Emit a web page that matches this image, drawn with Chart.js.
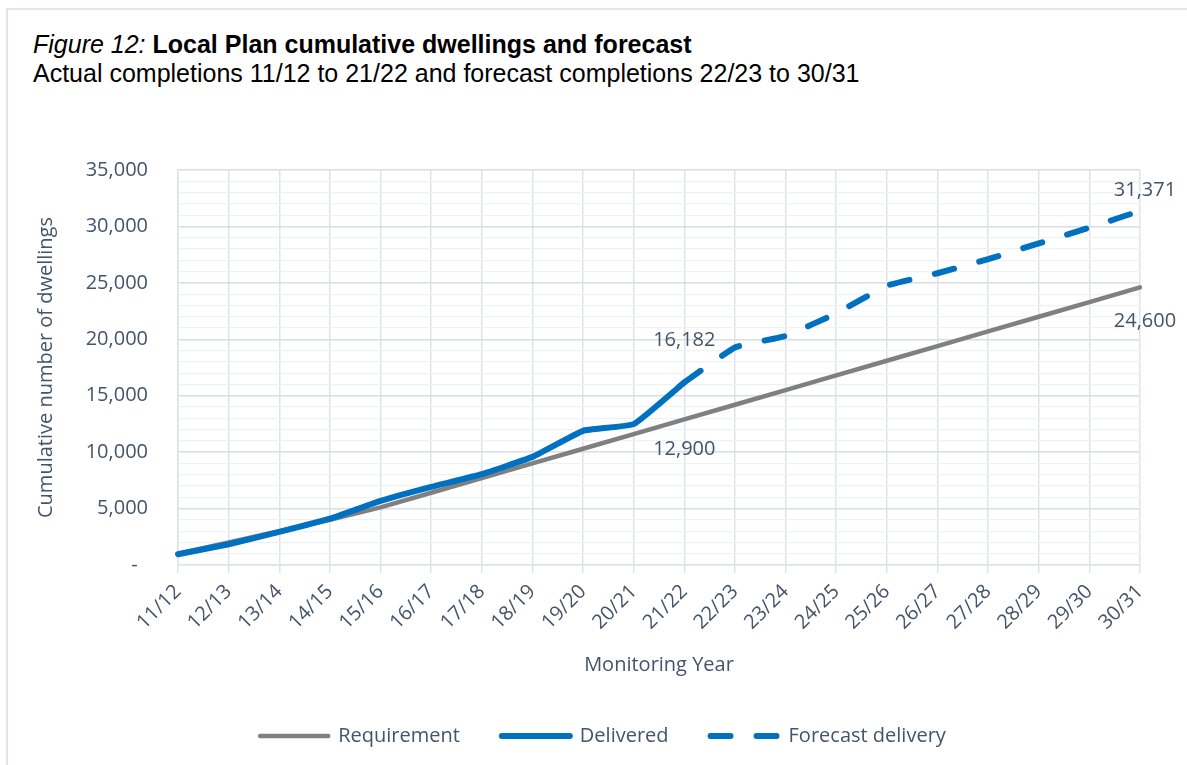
<!DOCTYPE html>
<html>
<head>
<meta charset="utf-8">
<script src="https://cdn.jsdelivr.net/npm/chart.js@4/dist/chart.umd.min.js"></script>
<style>
  html, body { margin: 0; padding: 0; background: #fff; }
  body { width: 1187px; height: 765px; position: relative; overflow: hidden; }
  #frame {
    position: absolute; left: 6px; top: 8px; width: 1300px; height: 900px;
    border: 2px solid #e1e4e8; box-sizing: border-box;
  }
  #heading {
    position: absolute; left: 33px; top: 30px;
    font-family: "Liberation Sans", Arial, sans-serif; font-size: 25px; line-height: 29px;
    color: #000; white-space: nowrap;
  }
  #chartWrap { position: absolute; left: 0; top: 0; width: 1187px; height: 765px; }
</style>
</head>
<body>
<div id="frame"></div>
<div id="heading">
  <div><i>Figure 12:</i> <b>Local Plan cumulative dwellings and forecast</b></div>
  <div>Actual completions 11/12 to 21/22 and forecast completions 22/23 to 30/31</div>
</div>
<div id="chartWrap"><canvas id="dwellingsChart" width="1187" height="765"></canvas></div>
<script>
const years = ['11/12', '12/13', '13/14', '14/15', '15/16', '16/17', '17/18', '18/19', '19/20', '20/21',
  '21/22', '22/23', '23/24', '24/25', '25/26', '26/27', '27/28', '28/29', '29/30', '30/31'];

const requirement = [1000, 2000, 3000, 4000, 5100, 6400, 7700, 9000, 10300, 11600,
  12900, 14200, 15500, 16800, 18100, 19400, 20700, 22000, 23300, 24600];

const delivered = [950, 1840, 2930, 4100, 5680, 6920, 8050, 9580, 11890, 12480, 16182];

const forecast = [null, null, null, null, null, null, null, null, null, null,
  16182, 19280, 20300, 22300, 24750, 25850, 27100, 28500, 29900, 31371];

const yTicks = { min: 0, max: 35000, step: 1000, major: 5000 };

const textColor = '#44546a';
const font = { family: '"Open Sans", sans-serif', size: 20 };

// value labels: which point, and where the text sits relative to it
const pointLabels = [
  { dataset: 1, index: 10, dx: 0, dy: -42 },
  { dataset: 0, index: 10, dx: 0, dy: 30 },
  { dataset: 2, index: 19, dx: 5, dy: -21 },
  { dataset: 0, index: 19, dx: 5, dy: 34 }
];

const valueLabelPlugin = {
  id: 'valueLabels',
  afterDatasetsDraw(chart) {
    const ctx = chart.ctx;
    ctx.save();
    ctx.font = `${font.size}px ${font.family}`;
    ctx.fillStyle = textColor;
    ctx.textAlign = 'center';
    ctx.textBaseline = 'middle';
    pointLabels.forEach(l => {
      const pt = chart.getDatasetMeta(l.dataset).data[l.index];
      const v = chart.data.datasets[l.dataset].data[l.index];
      ctx.fillText(v.toLocaleString('en-GB'), pt.x + l.dx, pt.y + l.dy);
    });
    ctx.restore();
  }
};

const config = {
  type: 'line',
  data: {
    labels: years,
    datasets: [
      {
        label: 'Requirement',
        data: requirement,
        borderColor: '#808080',
        backgroundColor: '#808080',
        borderWidth: 4.5,
        borderCapStyle: 'round',
        pointRadius: 0,
        tension: 0,
        order: 2
      },
      {
        label: 'Delivered',
        data: delivered,
        borderColor: '#0070c0',
        backgroundColor: '#0070c0',
        borderWidth: 6,
        borderCapStyle: 'round',
        pointRadius: 0,
        tension: 0.1,
        order: 1
      },
      {
        label: 'Forecast delivery',
        data: forecast,
        borderColor: '#0070c0',
        backgroundColor: '#0070c0',
        borderWidth: 6,
        borderDash: [20, 26],
        borderCapStyle: 'round',
        pointRadius: 0,
        tension: 0.1,
        order: 0
      }
    ]
  },
  options: {
    responsive: false,
    animation: false,
    layout: {
      padding: { left: 66, right: 47, top: 170, bottom: 9 }
    },
    plugins: {
      tooltip: { enabled: false },
      legend: {
        position: 'bottom',
        labels: {
          usePointStyle: true,
          pointStyle: 'line',
          pointStyleWidth: 68,
          padding: 42,
          color: textColor,
          font: font,
          sort: (a, b) => a.datasetIndex - b.datasetIndex,
          generateLabels: (chart) => {
            const items = Chart.defaults.plugins.legend.labels.generateLabels(chart);
            items.forEach(item => {
              const ds = chart.data.datasets[item.datasetIndex];
              item.lineDash = ds.borderDash || [];
              item.lineWidth = ds.borderWidth;
              item.lineCap = 'round';
              item.strokeStyle = ds.borderColor;
            });
            return items;
          }
        }
      }
    },
    scales: {
      x: {
        afterFit: (scale) => { scale.height = 119; },
        grid: {
          color: '#dfe3e8',
          lineWidth: 1.5,
          tickLength: 8
        },
        border: { color: '#dfe3e8', width: 1.5 },
        ticks: {
          color: textColor,
          font: font,
          maxRotation: 45,
          minRotation: 45,
          autoSkip: false,
          padding: 7
        },
        title: {
          display: true,
          text: 'Monitoring Year',
          color: textColor,
          font: font,
          padding: { top: 0, bottom: 7 }
        }
      },
      y: {
        min: yTicks.min,
        max: yTicks.max,
        afterFit: (scale) => { scale.width = 178 - 66; },
        grid: {
          color: (c) => c.tick && c.tick.value % yTicks.major === 0 ? '#dadee4' : '#eff1f4',
          lineWidth: (c) => c.tick && c.tick.value % yTicks.major === 0 ? 1.5 : 1.2,
          drawTicks: false
        },
        border: { color: '#dfe3e8', width: 1.5 },
        ticks: {
          stepSize: yTicks.step,
          autoSkip: false,
          color: textColor,
          font: font,
          padding: 30,
          callback: (v) => v === 0 ? '-  ' : (v % yTicks.major === 0 ? v.toLocaleString('en-GB') : '')
        },
        title: {
          display: true,
          text: 'Cumulative number of dwellings',
          color: textColor,
          font: font,
          padding: { top: -32, bottom: 0 }
        }
      }
    }
  },
  plugins: [valueLabelPlugin]
};

new Chart(document.getElementById('dwellingsChart'), config);
</script>
</body>
</html>
